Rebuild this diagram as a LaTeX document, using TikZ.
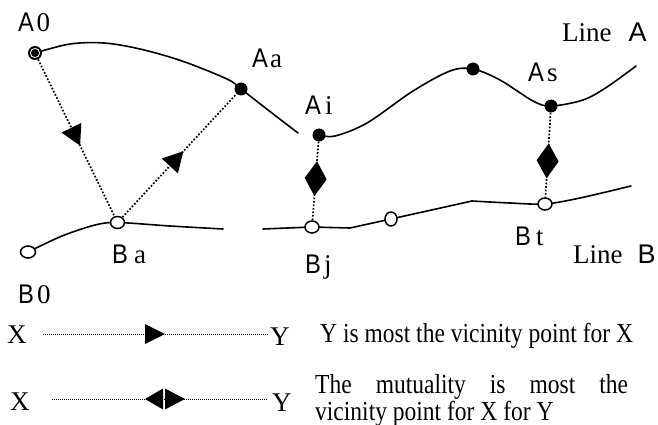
\documentclass[tikz,border=0pt]{standalone}
\usepackage{fontspec}
\usepackage{graphicx}
\setmainfont{Liberation Serif}
\newfontfamily\arialf{Liberation Sans}
\usetikzlibrary{decorations.markings,shapes.geometric}
% gap, capital (sans), suffix (serif)
\newcommand\ptlabel[3]{\scalebox{0.88}[1]{\arialf #2}\hspace{#1pt}#3}
\tikzset{
  curve/.style={line width=1.6pt, line cap=round},
  ball/.style={circle, fill=black, inner sep=0pt, minimum size=13pt},
  hole/.style={ellipse, draw, fill=white, line width=1.5pt, inner sep=0pt, minimum width=14pt, minimum height=12pt},
  link/.style={line width=1.7pt, dash pattern=on 1.7pt off 1.8pt},
  legdot/.style={line width=1pt, dash pattern=on 1pt off 1pt},
  lab/.style={anchor=base west, inner sep=0pt, font=\fontsize{27}{27}\selectfont},
  legtext/.style={anchor=base west, inner sep=0pt, font=\fontsize{27.5}{27.5}\selectfont},
  midarrow/.style={postaction={decorate, decoration={markings,
      mark=at position #1 with {\fill[solid] (0pt,0pt) -- (-20pt,11pt) -- (-20pt,-11pt) -- cycle;}}}},
  middiamond/.style={postaction={decorate, decoration={markings,
      mark=at position #1 with {\fill[solid] (17.5pt,0pt) -- (0pt,11pt) -- (-17.5pt,0pt) -- (0pt,-11pt) -- cycle;}}}},
}
\begin{document}
\begin{tikzpicture}[x=1pt, y=-1pt]
\useasboundingbox (0,0) rectangle (658,425);

% point positions
\coordinate (pA0) at (35,53);
\coordinate (pAa) at (241,89);
\coordinate (pAi) at (319,135);
\coordinate (pAp) at (473,69);
\coordinate (pAs) at (551,106);
\coordinate (pB0) at (28,252);
\coordinate (pBa) at (117.5,222.5);
\coordinate (pBj) at (312,227);
\coordinate (pBm) at (391,219);
\coordinate (pBt) at (545,204);

% Line A
\draw[curve] plot[smooth, tension=0.55] coordinates {(pA0) (70,44) (104,43) (140,49) (182,61) (227,79) (pAa) (268,110) (298,133)};
\draw[curve] plot[smooth, tension=0.55] coordinates {(pAi) (335,136) (367,123) (413,91) (450,71) (pAp) (500,80) (533,101) (pAs) (583,100) (607,87) (636,66)};

% Line B
\draw[curve] plot[smooth, tension=0.5] coordinates {(pB0) (62,236) (95,225) (pBa) (170,226) (223,229)};
\draw[curve] (263,229) -- (pBj) -- (350,228) -- (pBm) -- (472,201);
\draw[curve] plot[smooth, tension=0.5] coordinates {(472,201) (510,203) (pBt) (580,198) (631,186)};

% points on line A
\node[ball, minimum size=14pt] (A0) at (pA0) {};
\draw[white, line width=0.8pt] (A0.center) circle[radius=4.6pt];
\node[ball] (Aa) at (pAa) {};
\node[ball] (Ai) at (pAi) {};
\node[ball] (Ap) at (pAp) {};
\node[ball] (As) at (pAs) {};

% points on line B
\node[hole, minimum width=15pt] (B0) at (pB0) {};
\node[hole] (Ba) at (pBa) {};
\node[hole] (Bj) at (pBj) {};
\node[hole, minimum width=12pt, minimum height=14pt] (Bm) at (pBm) {};
\node[hole] (Bt) at (pBt) {};

% links
\draw[link, midarrow=0.55] (A0) -- (Ba);
\draw[link, midarrow=0.535] (Ba) -- (Aa);
\draw[link, middiamond=0.47] (Ai) -- (Bj);
\draw[link, middiamond=0.57] (As) -- (Bt);

% labels
\node[lab] (lA0) at (18,32) {\ptlabel{2.5}{A}{0}};
\node[lab] (lAa) at (252,68) {\ptlabel{2}{A}{a}};
\node[lab] (lAi) at (305,115) {\ptlabel{4}{A}{i}};
\node[lab] (lAs) at (528,82) {\ptlabel{3}{A}{s}};
\node[lab] (lLA) at (562,42) {Line\hspace{17pt}{\arialf A}};
\node[lab] (lBa) at (112,263) {\ptlabel{6}{B}{a}};
\node[lab] (lBj) at (305,273) {\ptlabel{3}{B}{j}};
\node[lab] (lBt) at (515,245) {\ptlabel{5}{B}{t}};
\node[lab] (lLB) at (573,263) {Line\hspace{15pt}{\arialf B}};
\node[lab] (lB0) at (18,303) {\ptlabel{3}{B}{0}};

% legend
\node[lab] (X1) at (7,343) {X};
\node[lab] (Y1) at (270,345) {Y};
\node[lab] (X2) at (10,410) {X};
\node[lab] (Y2) at (272,411) {Y};
\coordinate (l1s) at (43,334);
\coordinate (l1e) at (268,334);
\coordinate (l2s) at (52,399);
\coordinate (l2e) at (268,399);
\draw[legdot, postaction={decorate, decoration={markings,
   mark=at position 122pt with {\fill[solid] (0pt,0pt) -- (-20pt,10pt) -- (-20pt,-10pt) -- cycle;}}}] (l1s) -- (l1e);
\draw[legdot, postaction={decorate, decoration={markings,
   mark=at position 93pt with {\fill[solid] (0pt,0pt) -- (18pt,10.5pt) -- (18pt,-10.5pt) -- cycle;},
   mark=at position 133pt with {\fill[solid] (0pt,0pt) -- (-20pt,10.5pt) -- (-20pt,-10.5pt) -- cycle;}}}] (l2s) -- (l2e);

\node[legtext] (t1) at (320,342) {\scalebox{0.855}[1]{Y is most the vicinity point for X}};
\node[legtext] (t2) at (315,393) {\scalebox{0.855}[1]{\makebox[366pt][s]{The mutuality is most the}}};
\node[legtext] (t3) at (315,420) {\scalebox{0.855}[1]{vicinity point for X for Y}};
\end{tikzpicture}
\end{document}
